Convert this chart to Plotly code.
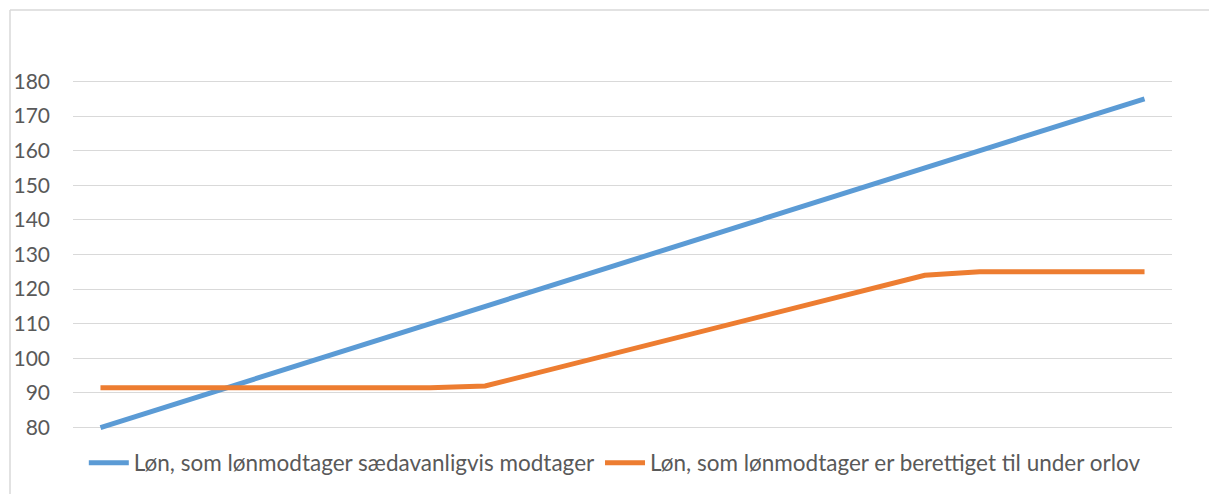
import plotly.graph_objects as go

categories = list(range(1, 21))
normal_pay = [80, 85, 90, 95, 100, 105, 110, 115, 120, 125, 130, 135, 140, 145, 150, 155, 160, 165, 170, 175]
leave_pay = [91.5, 91.5, 91.5, 91.5, 91.5, 91.5, 91.5, 92, 96, 100, 104, 108, 112, 116, 120, 124, 125, 125, 125, 125]
y_ticks = [80, 90, 100, 110, 120, 130, 140, 150, 160, 170, 180]
name_blue = "Løn, som lønmodtager sædavanligvis modtager"
name_orange = "Løn, som lønmodtager er berettiget til under orlov"

W, H = 1209, 494
ML, MR, MT, MB = 73, 37, 78, 63
pw, ph = W - ML - MR, H - MT - MB

def px_x(p):
    return (p - ML) / pw

def px_y(p):
    return (H - MB - p) / ph

fig = go.Figure()
fig.add_trace(go.Scatter(x=categories, y=normal_pay, mode="lines", name=name_blue,
                         line=dict(color="#5B9BD5", width=5)))
fig.add_trace(go.Scatter(x=categories, y=leave_pay, mode="lines", name=name_orange,
                         line=dict(color="#ED7D31", width=5)))

font_family = "Lato, 'Open Sans', sans-serif"
fig.update_layout(
    width=W, height=H,
    margin=dict(l=ML, r=MR, t=MT, b=MB, autoexpand=False),
    paper_bgcolor="white", plot_bgcolor="white",
    font=dict(family=font_family, size=21, color="#595959"),
    showlegend=True,
    legend=dict(orientation="h", x=0.493, xanchor="center", y=px_y(463), yanchor="middle",
                font=dict(size=22.5, color="#595959"), itemwidth=40, tracegroupgap=0),
    xaxis=dict(range=[0.5, 20.5], showticklabels=False, showgrid=False, zeroline=False,
               showline=False, ticks="", automargin=False),
    yaxis=dict(range=[79, 181], tickvals=y_ticks, showgrid=True, gridcolor="#D9D9D9",
               gridwidth=1, zeroline=False, showline=False, ticks="", automargin=False,
               ticklabelstandoff=22, tickfont=dict(size=21, color="#595959")),
    shapes=[
        dict(type="line", xref="paper", yref="paper", x0=px_x(10), x1=px_x(W + 40),
             y0=px_y(10), y1=px_y(10), line=dict(color="#D9D9D9", width=1.5)),
        dict(type="line", xref="paper", yref="paper", x0=px_x(10), x1=px_x(10),
             y0=px_y(10), y1=px_y(H + 40), line=dict(color="#D9D9D9", width=1.5)),
    ],
)

fig.write_html(
    "out.html",
    config={"displayModeBar": False},
    post_script="document.body.style.margin='0';document.body.style.overflow='hidden';",
)
